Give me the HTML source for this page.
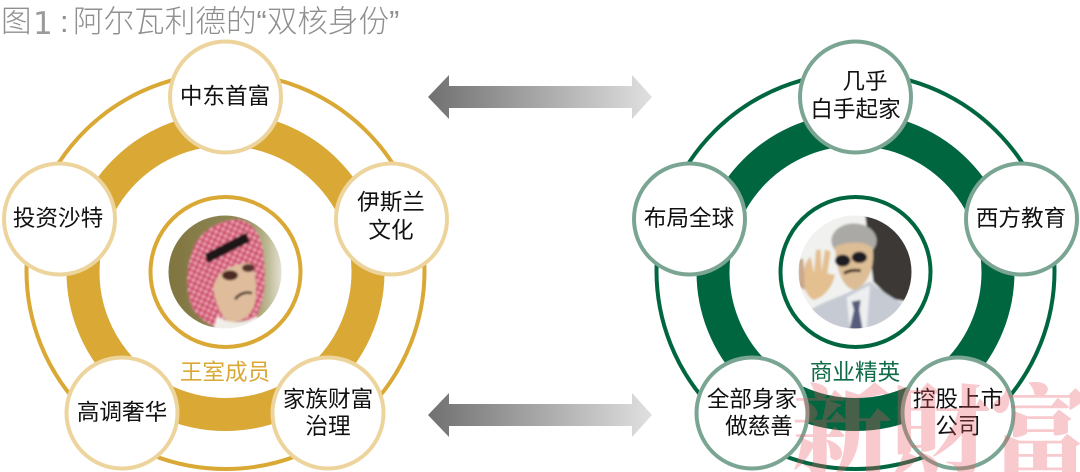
<!DOCTYPE html>
<html><head><meta charset="utf-8">
<style>
html,body{margin:0;padding:0;background:#fff;width:1080px;height:472px;overflow:hidden}
svg{display:block;overflow:hidden}
text{font-family:"Liberation Sans","Noto Sans CJK SC",sans-serif}
.n{font-size:22.6px;fill:#111;text-anchor:middle}
.t{font-size:30.6px;fill:#8f8f8f;font-weight:300}
.w{font-family:"Noto Serif CJK SC",serif;font-size:100px;font-weight:900;fill:rgba(232,85,98,.31);text-anchor:middle}
</style></head><body>
<svg width="1080" height="472" viewBox="0 0 1080 472" xmlns="http://www.w3.org/2000/svg">
<defs>
<linearGradient id="ag" x1="428" x2="652" y1="0" y2="0" gradientUnits="userSpaceOnUse"><stop offset="0" stop-color="#707070"/><stop offset="1" stop-color="#e0e0e0"/></linearGradient>
<clipPath id="c1"><circle cx="225" cy="272" r="56.5"/></clipPath>
<clipPath id="c2"><circle cx="855" cy="272" r="56.5"/></clipPath>
<clipPath id="pg"><rect width="1080" height="472"/></clipPath>
<filter id="bl" x="-10%" y="-10%" width="120%" height="120%"><feGaussianBlur stdDeviation="3.2"/></filter>
<linearGradient id="bg1" x1="0" x2="1" y1="0" y2="0"><stop offset="0" stop-color="#80743f"/><stop offset=".65" stop-color="#8f8a58"/><stop offset=".85" stop-color="#b8b48c"/><stop offset="1" stop-color="#e8e6da"/></linearGradient>
<pattern id="kf" width="16" height="16" patternUnits="userSpaceOnUse" patternTransform="rotate(25)"><rect width="16" height="16" fill="#d9607c"/><rect width="8" height="8" fill="#eeb4bf"/><rect x="8" y="8" width="8" height="8" fill="#c34a66"/></pattern>
</defs>

<!-- title -->
<text class="t" x="1" y="32">图</text>
<text x="33" y="34" style="font-family:'DejaVu Sans',sans-serif;font-size:31px;fill:#9a9a9a">1</text>
<text class="t" x="60" y="32">:</text>
<text class="t" x="73" y="32">阿尔瓦利德的“双核身份”</text>

<!-- arrows -->
<polygon points="428,97 449,75 449,86 632,86 632,75 652,97 632,119 632,108 449,108 449,119" fill="url(#ag)"/>
<polygon points="428,415 449,393 449,404 632,404 632,393 652,415 632,437 632,426 449,426 449,437" fill="url(#ag)"/>

<!-- LEFT -->
<ellipse cx="225.500" cy="271" rx="199" ry="198" fill="none" stroke="#d9a835" stroke-width="4"/>
<circle cx="225.500" cy="272" r="142.500" fill="none" stroke="#d9a835" stroke-width="33"/>
<circle cx="225.500" cy="272" r="75" fill="none" stroke="#d9a835" stroke-width="4"/>
<g clip-path="url(#c1)"><g transform="translate(160,210) scale(.3333)" filter="url(#bl)">
<rect x="20" y="10" width="350" height="350" fill="url(#bg1)"/>
<path d="M95 130 C110 70 170 30 235 28 C285 35 310 90 312 150 C320 220 310 290 285 325 L165 350 C120 330 90 300 85 250 C78 200 85 160 95 130Z" fill="url(#kf)"/>
<path d="M135 132 L258 68 L270 95 L142 160Z" fill="#1b1512"/>
<path d="M160 235 C165 200 190 165 270 158 C290 180 292 250 282 290 C265 325 235 340 205 335 C180 315 165 270 160 235Z" fill="#dfbd9c"/>
<ellipse cx="210" cy="196" rx="24" ry="15" fill="#4b2c22"/><ellipse cx="265" cy="174" rx="19" ry="12" fill="#52332a"/>
<path d="M225 268 C240 248 262 245 276 250" fill="none" stroke="#4a372b" stroke-width="8"/>
<path d="M160 360 L172 318 C200 340 250 345 290 318 L310 360Z" fill="#f0eee8"/>
</g></g>
<text x="225" y="380" style="font-size:22.6px;fill:#d9a835" text-anchor="middle">王室成员</text>
<g fill="#fff" stroke="#edd49c" stroke-width="4">
<circle cx="225.500" cy="97" r="55.500"/><circle cx="59.500" cy="219" r="55.500"/><circle cx="391.500" cy="219" r="55.500"/><circle cx="122" cy="413" r="55.500"/><circle cx="328" cy="413" r="55.500"/>
</g>
<text class="n" x="225" y="104">中东首富</text>
<text class="n" x="58" y="226">投资沙特</text>
<text class="n" x="391" y="210">伊斯兰</text><text class="n" x="391" y="238">文化</text>
<text class="n" x="122" y="420">高调奢华</text>
<text class="n" x="328" y="407">家族财富</text><text class="n" x="328" y="434">治理</text>

<!-- RIGHT -->
<ellipse cx="855.500" cy="271" rx="199" ry="198" fill="none" stroke="#006640" stroke-width="4"/>
<circle cx="855.500" cy="272" r="142.500" fill="none" stroke="#006640" stroke-width="33"/>
<circle cx="855.500" cy="272" r="75" fill="none" stroke="#006640" stroke-width="4"/>
<g clip-path="url(#c2)"><g transform="translate(790,210) scale(.3333)" filter="url(#bl)">
<rect x="20" y="10" width="350" height="350" fill="#f1f2f0"/>
<path d="M225 10 H375 V280 L300 265 L250 215Z" fill="#3b3936"/>
<path d="M60 300 C100 275 150 260 180 245 L240 215 C280 250 330 275 370 300 V360 H60Z" fill="#c6cbd3"/>
<path d="M170 262 L240 225 L230 360 H180Z" fill="#eceef0"/>
<path d="M185 275 L212 270 L208 300 L218 360 H178 L192 300Z" fill="#565b7b"/>
<ellipse cx="192" cy="92" rx="68" ry="52" fill="#aaa9a5"/>
<path d="M135 110 C170 95 225 90 248 115 C255 170 235 225 195 240 C160 235 140 190 135 110Z" fill="#dcbd95"/>
<ellipse cx="158" cy="152" rx="23" ry="18" fill="#1c1c20"/><ellipse cx="208" cy="142" rx="23" ry="17" fill="#1c1c20"/>
<path d="M162 190 C180 180 195 180 212 182" fill="none" stroke="#3e2a20" stroke-width="9"/>
<path d="M42 225 C38 190 40 160 62 140 L72 190 L78 120 L92 118 L95 185 L105 118 L122 125 L112 190 L135 195 C125 240 95 265 70 270 C55 260 45 245 42 225Z" fill="#e4bf90"/>
<path d="M25 150 L40 145 L45 240 L25 230Z" fill="#c9a98c"/>
</g></g>
<text x="855" y="380" style="font-size:22.6px;fill:#0f6b48" text-anchor="middle">商业精英</text>
<g fill="#fff" stroke="#7aa592" stroke-width="4">
<circle cx="855.500" cy="97" r="55.500"/><circle cx="689.500" cy="219" r="55.500"/><circle cx="1021.500" cy="219" r="55.500"/><circle cx="752" cy="413" r="55.500"/><circle cx="958" cy="413" r="55.500"/>
</g>
<text class="n" x="865" y="89">几乎</text><text class="n" x="855.500" y="117">白手起家</text>
<text class="n" x="689" y="226">布局全球</text>
<text class="n" x="1021" y="226">西方教育</text>
<text class="n" x="752" y="407">全部身家</text><text class="n" x="759" y="434">做慈善</text>
<text class="n" x="958" y="407">控股上市</text><text class="n" x="958" y="434">公司</text>

<!-- watermark -->
<g clip-path="url(#pg)">
<text class="w" x="842" y="468">新</text>
<text class="w" x="940" y="468">財</text>
<text class="w" x="1040" y="468">富</text>
</g>
</svg>
</body></html>
